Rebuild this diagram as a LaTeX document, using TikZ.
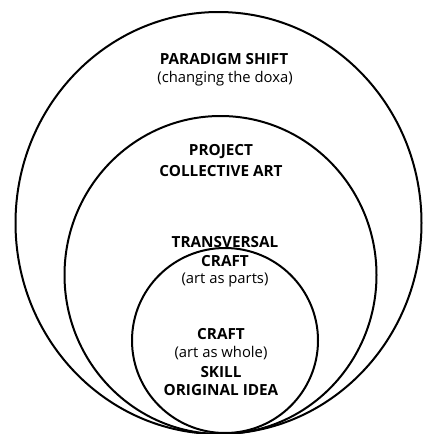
\documentclass[tikz,border=0pt]{standalone}
\usepackage{fontspec}
\setmainfont{Open Sans}
\begin{document}
\begin{tikzpicture}[x=1pt,y=-1pt,
  ring/.style={line width=2pt,black},
  title/.style={font=\fontsize{15.3}{17}\selectfont\bfseries,inner sep=0pt,anchor=center},
  sub/.style={font=\fontsize{14.8}{17}\selectfont,inner sep=0pt,anchor=center}]
\useasboundingbox (0,0) rectangle (423,434);
\begin{scope}
\clip (0,0) rectangle (423,434);
\draw[ring] (218.5,223) ellipse [x radius=203, y radius=211];
\draw[ring] (220.5,275) ellipse [x radius=156, y radius=159];
\draw[ring] (225,340.5) ellipse [x radius=93, y radius=92.5];
\end{scope}
\node[title] (ps) at (224,59) {PARADIGM SHIFT};
\node[sub] (doxa) at (225,79) {(changing the doxa)};
\node[title] (proj) at (221,152) {PROJECT};
\node[title] (coll) at (221,171) {COLLECTIVE ART};
\node[title] (trans) at (225,242) {TRANSVERSAL};
\node[title] (craft1) at (225,261) {CRAFT};
\node[sub] (parts) at (225,280) {(art as parts)};
\node[title] (craft2) at (221,334) {CRAFT};
\node[sub] (whole) at (221,353) {(art as whole)};
\node[title] (skill) at (221,372) {SKILL};
\node[title] (idea) at (221,390) {ORIGINAL IDEA};
\end{tikzpicture}
\end{document}
